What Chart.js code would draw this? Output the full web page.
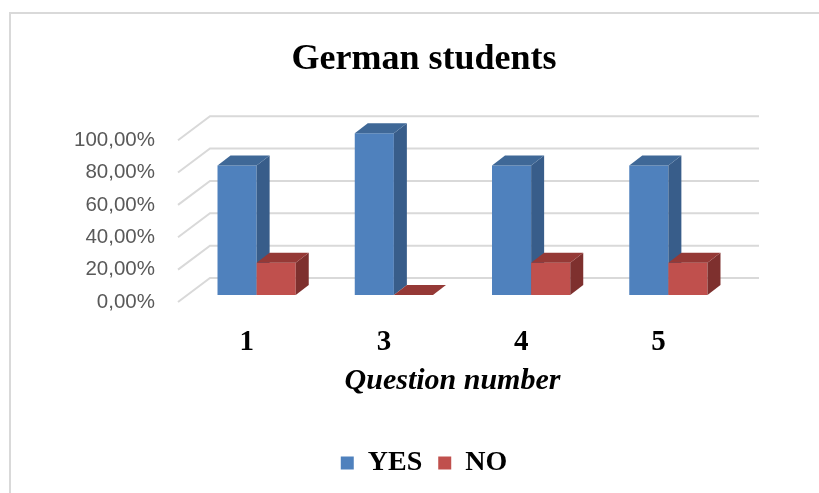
<!DOCTYPE html>
<html>
<head>
<meta charset="utf-8">
<script src="https://cdn.jsdelivr.net/npm/chart.js@4.4.1/dist/chart.umd.min.js"></script>
<style>
  html, body { margin: 0; padding: 0; background: #fff; }
  #wrap { width: 819px; height: 493px; position: relative; }
</style>
</head>
<body>
<div id="wrap"><canvas id="germanChart" width="819" height="493"></canvas></div>
<script>
// data
const categories = ['1', '3', '4', '5'];
const yesValues = [80, 100, 80, 80];
const noValues = [20, 0, 20, 20];
const yTicks = [0, 20, 40, 60, 80, 100];

// 3d look: bar depth, bar offset from the floor's front edge, back wall offset
const depth = { dx: 13, dy: -10 };
const shift = { dx: 10, dy: -7 };
const wall = { dx: 32, dy: -24 };
const faceColors = [
  { side: '#385D8A', top: '#3F6897' },
  { side: '#7E302E', top: '#953936' }
];

function fmtPct(v) {
  return v.toFixed(2).replace('.', ',') + '%';
}

// frame, grid walls + extruded bars
const bars3d = {
  id: 'bars3d',
  beforeDraw(chart) {
    const ctx = chart.ctx;
    ctx.save();
    ctx.strokeStyle = '#d9d9d9';
    ctx.lineWidth = 2;
    ctx.beginPath();
    ctx.moveTo(10, 493);
    ctx.lineTo(10, 13);
    ctx.lineTo(819, 13);
    ctx.stroke();
    ctx.restore();
  },
  beforeDatasetsDraw(chart) {
    const { ctx, chartArea, scales } = chart;
    const y = scales.y;
    ctx.save();
    ctx.strokeStyle = '#d9d9d9';
    ctx.lineWidth = 2;
    y.ticks.forEach(t => {
      const py = y.getPixelForValue(t.value);
      ctx.beginPath();
      ctx.moveTo(chartArea.left, py);
      ctx.lineTo(chartArea.left + wall.dx, py + wall.dy);
      ctx.lineTo(chartArea.right + wall.dx, py + wall.dy);
      ctx.stroke();
    });
    ctx.restore();

    ctx.save();
    ctx.translate(shift.dx, shift.dy);
    const metas = chart.data.datasets.map((_, i) => chart.getDatasetMeta(i));
    categories.forEach((_, j) => {
      metas.forEach((meta, di) => {
        if (meta.hidden) return;
        const el = meta.data[j];
        const p = el.getProps(['x', 'y', 'base', 'width'], true);
        const left = p.x - p.width / 2;
        const right = p.x + p.width / 2;
        el.draw(ctx);
        // side face
        ctx.fillStyle = faceColors[di].side;
        ctx.beginPath();
        ctx.moveTo(right, p.y);
        ctx.lineTo(right + depth.dx, p.y + depth.dy);
        ctx.lineTo(right + depth.dx, p.base + depth.dy);
        ctx.lineTo(right, p.base);
        ctx.closePath();
        ctx.fill();
        // top face
        ctx.fillStyle = faceColors[di].top;
        ctx.beginPath();
        ctx.moveTo(left, p.y);
        ctx.lineTo(left + depth.dx, p.y + depth.dy);
        ctx.lineTo(right + depth.dx, p.y + depth.dy);
        ctx.lineTo(right, p.y);
        ctx.closePath();
        ctx.fill();
      });
    });
    ctx.restore();
    return false;
  }
};

const ctx = document.getElementById('germanChart').getContext('2d');
const chart = new Chart(ctx, {
  type: 'bar',
  data: {
    labels: categories,
    datasets: [
      { label: 'YES', data: yesValues, backgroundColor: '#4F81BD', borderWidth: 0, clip: false },
      { label: 'NO', data: noValues, backgroundColor: '#C0504D', borderWidth: 0, clip: false }
    ]
  },
  plugins: [bars3d],
  options: {
    responsive: false,
    animation: false,
    layout: { padding: { top: 15, left: 60, right: 31, bottom: 6 } },
    datasets: { bar: { categoryPercentage: 0.57, barPercentage: 1 } },
    plugins: {
      title: {
        display: true,
        text: 'German students',
        color: '#000',
        font: { family: 'Liberation Serif', size: 36, weight: 'bold' },
        padding: { top: 23, bottom: 59 }
      },
      legend: {
        position: 'bottom',
        labels: {
          boxWidth: 13,
          boxHeight: 13,
          color: '#000',
          padding: 16,
          font: { family: 'Liberation Serif', size: 28, weight: 'bold' }
        }
      },
      tooltip: { enabled: false }
    },
    scales: {
      x: {
        grid: { display: false, drawTicks: false },
        border: { display: false },
        ticks: {
          color: '#000',
          padding: 23,
          font: { family: 'Liberation Serif', size: 29, weight: 'bold' }
        },
        title: {
          display: true,
          text: 'Question number',
          color: '#000',
          font: { family: 'Liberation Serif', size: 30, weight: 'bold', style: 'italic' },
          padding: { top: 0, bottom: 34 }
        },
        afterFit(scale) { scale.height = 131; }
      },
      y: {
        min: 0,
        max: 100,
        grid: { display: false, drawTicks: false },
        border: { display: false },
        afterBuildTicks(scale) { scale.ticks = yTicks.map(v => ({ value: v })); },
        ticks: {
          color: '#595959',
          padding: 23,
          font: { family: 'Liberation Sans', size: 20.5 },
          callback: v => fmtPct(v)
        },
        afterFit(scale) { scale.width = 118; }
      },
      // empty right axis, only reserves room for the back wall
      yRight: {
        axis: 'y',
        position: 'right',
        min: 0,
        max: 100,
        grid: { display: false, drawTicks: false },
        border: { display: false },
        ticks: { display: false },
        afterFit(scale) { scale.width = 61; }
      }
    }
  }
});
</script>
</body>
</html>
